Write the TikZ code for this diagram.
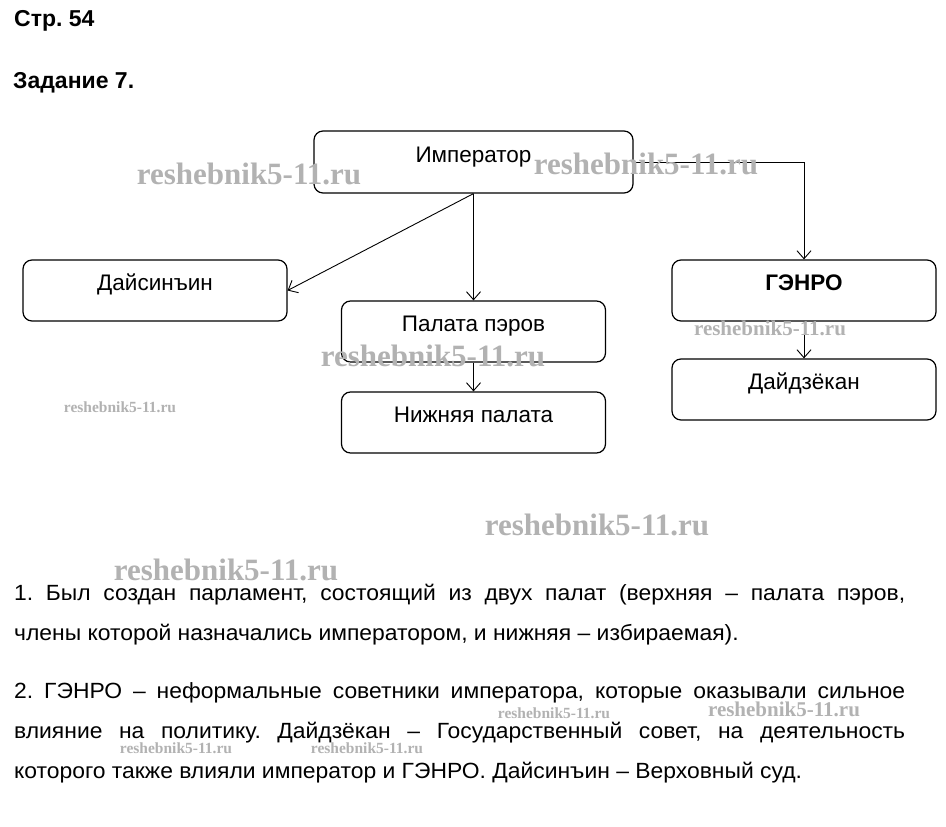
\documentclass[tikz,border=0pt]{standalone}
\usepackage{fontspec}
\setmainfont{Liberation Sans}
\newfontfamily\wmfont{Liberation Serif}
\newfontfamily\widefont{Liberation Sans}[FakeStretch=1.04]
\usetikzlibrary{arrows.meta}
\frenchspacing

\begin{document}
\begin{tikzpicture}[x=1pt,y=-1pt,
    box/.style={draw,rounded corners=9pt,line width=1.2pt,inner sep=0pt,
      minimum width=264pt,minimum height=61pt,
      font=\fontsize{22.5}{26}\selectfont,text height=10pt,text depth=10pt},
    head/.style={anchor=base west,inner sep=0pt,font=\fontsize{23}{27}\selectfont\bfseries},
    txt/.style={anchor=north west,inner sep=0pt,text width=891pt,align=justify,
      font=\widefont\fontsize{22}{40}\selectfont},
    wm/.style={inner sep=0pt,text=gray!60,font=\wmfont\bfseries}]
  \useasboundingbox[fill=white] (0,0) rectangle (946,827);

  % headings
  \node[head] (page) at (14,27) {Стр. 54};
  \node[head] (task) at (13,88) {Задание 7.};

  % boxes
  \node[box,minimum width=319pt,minimum height=62pt] (emp) at (473.5,162) {Император};
  \node[box] (dai) at (155,290.5) {Дайсинъин};
  \node[box] (peer) at (473.5,331.5) {Палата пэров};
  \node[box] (low) at (473.5,422.5) {Нижняя палата};
  \node[box,font=\fontsize{22.5}{26}\selectfont\bfseries] (gen) at (804,290.5) {ГЭНРО};
  \node[box] (dzk) at (804,389.5) {Дайдзёкан};

  % links
  \begin{scope}[line width=0.9pt,-{Straight Barb[length=8pt,width=14pt]}]
    \draw (emp.south) to (dai.east);
    \draw (emp.south) to (peer.north);
    \draw (emp.east) -| (gen.north);
    \draw (peer.south) to (low.north);
    \draw (gen.south) to (dzk.north);
  \end{scope}

  % answer
  \node[txt] (p1) at (14,584) {1. Был создан парламент, состоящий из двух палат (верхняя – палата пэров,\linebreak
    члены которой назначались императором, и нижняя – избираемая).};
  \node[txt] (p2) at (14,682) {2. ГЭНРО – неформальные советники императора, которые оказывали сильное\linebreak
    влияние на политику. Дайдзёкан – Государственный совет, на деятельность\linebreak
    которого также влияли император и ГЭНРО. Дайсинъин – Верховный суд.};

  % watermarks
  \node[wm,font=\wmfont\bfseries\fontsize{31}{31}\selectfont] (w1) at (249,174) {reshebnik5-11.ru};
  \node[wm,font=\wmfont\bfseries\fontsize{31}{31}\selectfont] (w2) at (646,164) {reshebnik5-11.ru};
  \node[wm,font=\wmfont\bfseries\fontsize{21}{21}\selectfont] (w3) at (770,328) {reshebnik5-11.ru};
  \node[wm,font=\wmfont\bfseries\fontsize{31}{31}\selectfont] (w4) at (433,356) {reshebnik5-11.ru};
  \node[wm,font=\wmfont\bfseries\fontsize{15.5}{16}\selectfont] (w5) at (120,407) {reshebnik5-11.ru};
  \node[wm,font=\wmfont\bfseries\fontsize{31}{31}\selectfont] (w6) at (597,525) {reshebnik5-11.ru};
  \node[wm,font=\wmfont\bfseries\fontsize{31}{31}\selectfont] (w7) at (226,570) {reshebnik5-11.ru};
  \node[wm,font=\wmfont\bfseries\fontsize{15.5}{16}\selectfont] (w8) at (554,713) {reshebnik5-11.ru};
  \node[wm,font=\wmfont\bfseries\fontsize{21}{21}\selectfont] (w9) at (784,709) {reshebnik5-11.ru};
  \node[wm,font=\wmfont\bfseries\fontsize{15.5}{16}\selectfont] (w10) at (176,748) {reshebnik5-11.ru};
  \node[wm,font=\wmfont\bfseries\fontsize{15.5}{16}\selectfont] (w11) at (367,748) {reshebnik5-11.ru};
\end{tikzpicture}
\end{document}
